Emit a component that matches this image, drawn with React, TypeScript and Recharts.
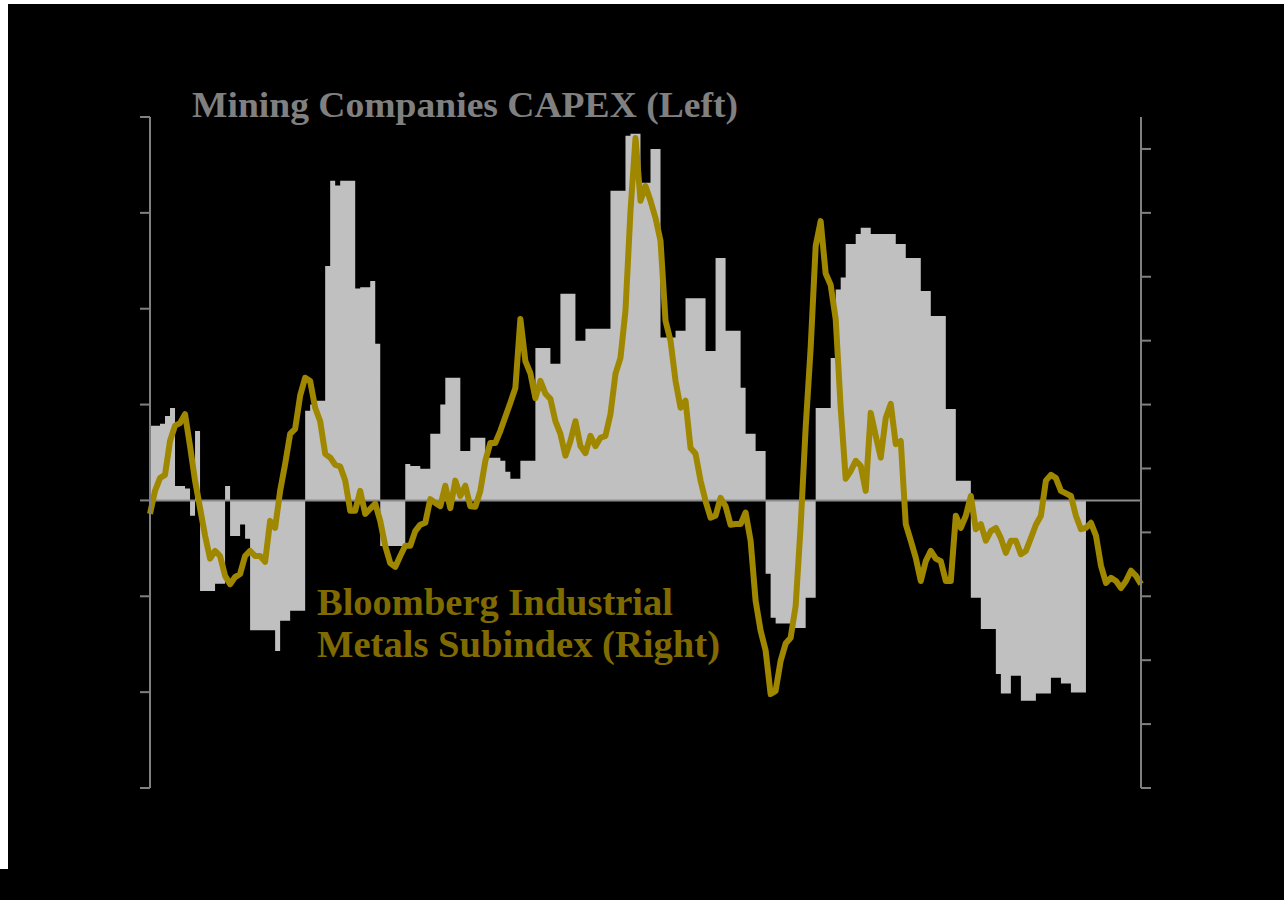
import React from 'react';
import { ComposedChart, Area, Line, XAxis, YAxis, ReferenceLine } from 'recharts';

// Mining companies CAPEX (left axis, % change)
const capexLeft: (number | null)[] = [
  15.6, 15.6, 16, 17.6, 19.3, 3, 3, 2.5, -3.2, 14.5,
  -18.9, -18.9, -18.9, -17.4, -17.4, 3, -7.4, -7.4, -5, -8,
  -27.1, -27.1, -27.1, -27.1, -27.1, -31.4, -25.1, -25.1, -23, -23,
  -23, 18.7, 20, 20.8, 20.8, 48.9, 66.7, 65.7, 66.7, 66.7,
  66.7, 44.2, 44.5, 44.5, 45.8, 32.7, -9.5, -9.5, -9.5, -9.5,
  -9.5, 7.6, 7.2, 7.2, 6.6, 6.6, 13.9, 13.9, 20, 25.6,
  25.6, 25.6, 10.3, 10.3, 13.1, 13.1, 13.1, 8.9, 8.9, 8.9,
  8.3, 6, 4.5, 4.5, 8.3, 8.3, 8.3, 31.8, 31.8, 31.8,
  28.5, 28.5, 43.1, 43.1, 43.1, 33.3, 33.3, 35.8, 35.8, 35.8,
  35.8, 35.8, 64.6, 64.6, 64.6, 76.1, 76.5, 76.5, 66.3, 66.3,
  73.3, 73.3, 34, 34, 34, 35.4, 35.4, 42.2, 42.2, 42.2,
  42.2, 31.2, 31.2, 50.6, 50.6, 35.4, 35.4, 35.4, 23.5, 13.9,
  13.9, 10.3, 10.3, -15.3, -24.5, -25.7, -25.7, -25.7, -26.6, -26.6,
  -26.6, -20.3, -20.3, 19.3, 19.3, 19.3, 29.7, 44, 46.5, 53.5,
  53.5, 55.6, 56.9, 56.9, 55.6, 55.6, 55.6, 55.6, 55.6, 53.5,
  53.5, 50.6, 50.6, 50.6, 43.7, 43.7, 38.5, 38.5, 38.5, 19.1,
  19.1, 4.1, 4.1, 4.1, -20.3, -20.3, -26.8, -26.8, -26.8, -36.2,
  -40.3, -40.3, -36.6, -36.6, -41.8, -41.8, -41.8, -40.3, -40.3, -40.3,
  -37, -37, -38.2, -38.2, -40.1, -40.1, -40.1, -44.5, null, null,
  null, null, null, null, null, null, null, null, null,
];

// Bloomberg Industrial Metals Subindex (right axis, % change)
const metalsRight: number[] = [
  2.9, 6.5, 8.5, 9.0, 14.3, 16.7, 17.1, 18.5, 13.5, 8.1,
  3.8, -0.5, -4.1, -2.9, -3.7, -6.8, -8.1, -7.0, -6.5, -3.7,
  -2.9, -3.7, -3.7, -4.6, 1.8, 0.7, 6.5, 10.7, 15.4, 16.2,
  21.4, 24.2, 23.7, 19.5, 17.4, 12.3, 11.7, 10.6, 10.3, 8.1,
  3.4, 3.4, 6.5, 2.9, 3.7, 4.5, 1.8, -2.1, -4.8, -5.4,
  -3.7, -2.1, -2.1, 0.2, 1.2, 1.5, 5.2, 4.6, 4.1, 7.3,
  3.8, 8.1, 5.7, 7.3, 4.1, 4.0, 6.5, 11.2, 14.0, 14.0,
  15.9, 18.1, 20.3, 22.6, 33.4, 26.8, 24.9, 21.0, 23.7, 21.7,
  20.9, 17.4, 15.4, 12.0, 14.3, 17.4, 13.5, 12.4, 15.1, 13.5,
  14.8, 15.1, 18.5, 24.8, 27.3, 34.7, 50.3, 61.7, 51.9, 54.2,
  51.9, 49.2, 45.6, 33.1, 30.0, 23.7, 19.5, 20.6, 13.2, 12.3,
  8.1, 4.9, 2.3, 2.6, 5.4, 4.1, 1.2, 1.3, 1.3, 3.1,
  -1.3, -10.7, -15.4, -18.5, -25.3, -24.8, -20.1, -17.4, -16.5, -11.5,
  1.0, 16.4, 28.9, 44.8, 48.7, 40.5, 38.7, 33.4, 19.5, 8.4,
  9.6, 11.2, 10.4, 6.5, 18.7, 15.1, 11.7, 17.9, 20.1, 13.8,
  14.3, 1.3, -1.3, -4.0, -7.6, -4.5, -2.9, -4.1, -4.5, -7.6,
  -7.6, 2.6, 0.7, 2.6, 5.7, 0.5, 1.3, -1.3, 0.2, 0.7,
  -0.9, -3.2, -1.3, -1.3, -3.4, -2.9, -0.9, 1.2, 2.6, 8.1,
  9.0, 8.5, 6.5, 6.1, 5.7, 2.6, 0.5, 0.7, 1.5, -0.5,
  -5.2, -7.9, -7.1, -7.6, -8.7, -7.6, -6.0, -6.8, -8.1,
];

const periods: number[] = metalsRight.map((_, i) => i);

const leftTicks = [-60, -40, -20, 0, 20, 40, 60, 80];
const rightTicks = [-40, -30, -20, -10, 0, 10, 20, 30, 40, 50, 60];

const titleLeft = 'Mining Companies CAPEX (Left)';
const titleRight1 = 'Bloomberg Industrial';
const titleRight2 = 'Metals Subindex (Right)';

const data = periods.map((p, i) => ({ period: p, capex: capexLeft[i], metals: metalsRight[i] }));

const AXIS = '#808080';
const GOLD = '#a08700';
const GOLD_TEXT = '#806b00';
const FONT = '"Liberation Serif", "DejaVu Serif", serif';

const NoLabel = () => <g />;

export default function App() {
  return (
    <div>
      <div style={{ position: 'fixed', left: 8, top: 4, width: 1276, height: 865, background: '#000' }}>
        <ComposedChart
          width={1276}
          height={865}
          data={data}
          margin={{ top: 113, right: 123, bottom: 81, left: 122 }}
        >
          <XAxis dataKey="period" type="number" domain={[0, periods.length - 1]} hide />
          <YAxis
            yAxisId="left"
            orientation="left"
            width={20}
            domain={[-60, 80]}
            ticks={leftTicks}
            tick={NoLabel}
            tickSize={10}
            axisLine={{ stroke: AXIS, strokeWidth: 2 }}
            tickLine={{ stroke: AXIS, strokeWidth: 2 }}
            allowDataOverflow
            interval={0}
          />
          <YAxis
            yAxisId="right"
            orientation="right"
            width={20}
            domain={[-40, 65]}
            ticks={rightTicks}
            tick={NoLabel}
            tickSize={10}
            axisLine={{ stroke: AXIS, strokeWidth: 2 }}
            tickLine={{ stroke: AXIS, strokeWidth: 2 }}
            allowDataOverflow
            interval={0}
          />
          <Area
            yAxisId="left"
            dataKey="capex"
            type="stepAfter"
            baseValue={0}
            fill="#c0c0c0"
            fillOpacity={1}
            stroke="none"
            isAnimationActive={false}
            dot={false}
            activeDot={false}
          />
          <ReferenceLine yAxisId="left" y={0} stroke="#8c8c8c" strokeWidth={2} />
          <Line
            yAxisId="right"
            dataKey="metals"
            type="linear"
            stroke={GOLD}
            strokeWidth={6}
            dot={false}
            activeDot={false}
            strokeLinejoin="round"
            isAnimationActive={false}
          />
        </ComposedChart>
      </div>
      <div style={{ position: 'fixed', left: 0, top: 869, width: 1284, height: 31, background: '#000' }} />
      <svg
        width={1284}
        height={900}
        style={{ position: 'fixed', left: 0, top: 0, pointerEvents: 'none' }}
      >
        <text x={192} y={117} fill={AXIS} fontFamily={FONT} fontWeight="bold" fontSize={36} textLength={546} lengthAdjust="spacingAndGlyphs">
          {titleLeft}
        </text>
        <text x={317} y={615} fill={GOLD_TEXT} fontFamily={FONT} fontWeight="bold" fontSize={37} textLength={356} lengthAdjust="spacingAndGlyphs">
          {titleRight1}
        </text>
        <text x={317} y={657} fill={GOLD_TEXT} fontFamily={FONT} fontWeight="bold" fontSize={37} textLength={403} lengthAdjust="spacingAndGlyphs">
          {titleRight2}
        </text>
      </svg>
    </div>
  );
}
